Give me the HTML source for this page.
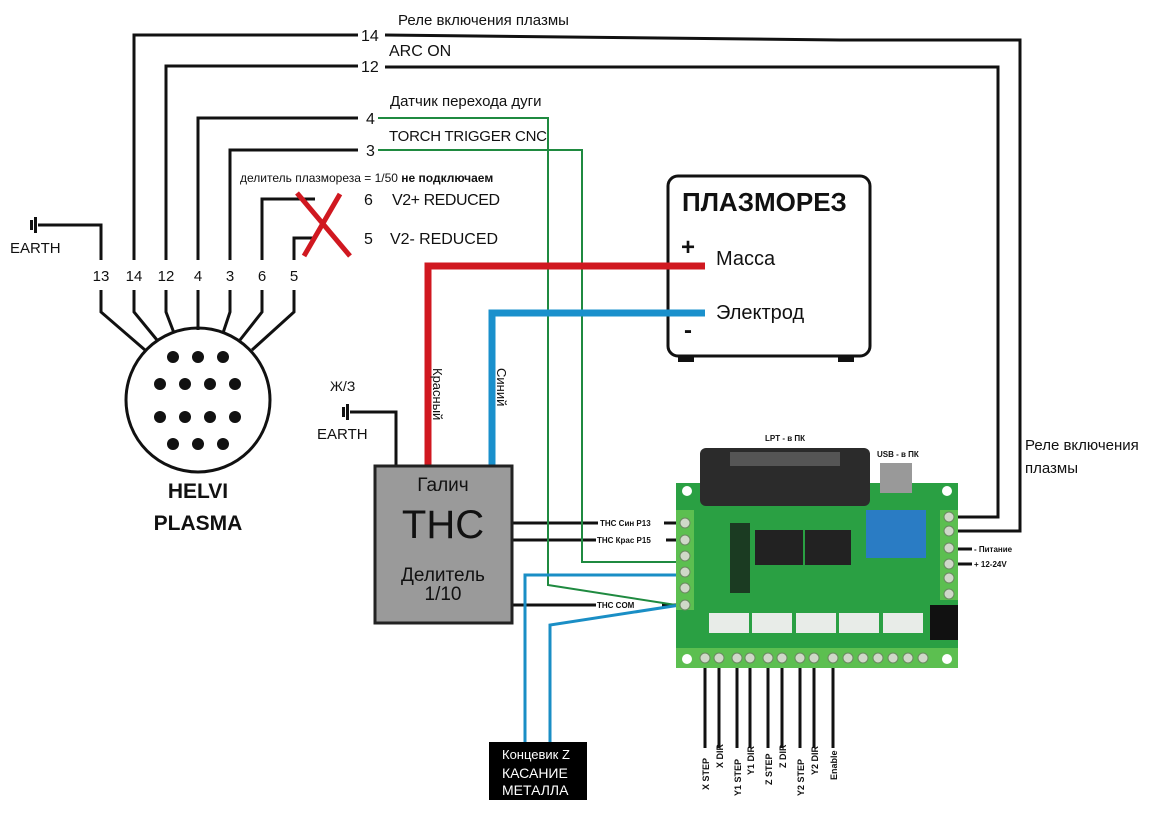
<!DOCTYPE html>
<html><head><meta charset="utf-8"><style>
body{margin:0;background:#fff}
svg{display:block;font-family:"Liberation Sans","DejaVu Sans",sans-serif}
</style></head><body>
<svg width="1160" height="814" viewBox="0 0 1160 814" xmlns="http://www.w3.org/2000/svg">
<rect width="1160" height="814" fill="#fff"/>
<g stroke="#111" stroke-width="3" fill="none">
<path d="M134 260V35H358"/><path d="M166 260V66H358"/><path d="M198 260V118H358"/><path d="M230 260V150H358"/>
<path d="M262 260V199H315"/><path d="M294 260V238H315"/>
<path d="M101 260V225H38"/>
<path d="M101 290V312L145 350"/><path d="M134 290V312L157 340"/><path d="M166 290V312L174 333"/><path d="M198 290V330"/>
<path d="M230 290V312L223 333"/><path d="M262 290V312L240 340"/><path d="M294 290V312L252 350"/>
<circle cx="198" cy="400" r="72"/>
<path d="M385 35L840 40H1020V531H958"/><path d="M385 67H998V517H958"/>
<path d="M396 465V412H350"/>
<path d="M512 523H598M664 523H678"/><path d="M512 540H596M666 540H678"/><path d="M512 605H596M662 605H678"/>
<path d="M958 549H972M958 564H972"/>
<path d="M705 668V748M719 668V748M737 668V748M750 668V748M768 668V748M782 668V748M800 668V748M814 668V748M833 668V748"/>
<rect x="668" y="176" width="202" height="180" rx="10"/>
</g>
<rect x="678" y="355" width="16" height="7" fill="#111"/><rect x="838" y="355" width="16" height="7" fill="#111"/>
<g fill="#111"><rect x="30" y="220" width="3" height="10"/><rect x="34" y="217" width="3" height="16"/>
<rect x="342" y="407" width="3" height="10"/><rect x="346" y="404" width="3" height="16"/></g>
<g fill="#111">
<circle cx="173" cy="357" r="6"/><circle cx="198" cy="357" r="6"/><circle cx="223" cy="357" r="6"/>
<circle cx="160" cy="384" r="6"/><circle cx="185" cy="384" r="6"/><circle cx="210" cy="384" r="6"/><circle cx="235" cy="384" r="6"/>
<circle cx="160" cy="417" r="6"/><circle cx="185" cy="417" r="6"/><circle cx="210" cy="417" r="6"/><circle cx="235" cy="417" r="6"/>
<circle cx="173" cy="444" r="6"/><circle cx="198" cy="444" r="6"/><circle cx="223" cy="444" r="6"/>
</g>
<path d="M297 193L350 256M340 194L304 256" stroke="#d01820" stroke-width="5"/>
<g stroke="#1f8a40" stroke-width="2" fill="none">
<path d="M378 118H548V585L676 605"/><path d="M378 150H582V562H680"/>
</g>
<g stroke="#1a8ec5" stroke-width="3" fill="none">
<path d="M680 575H525V742"/><path d="M680 605L550 625V742"/>
</g>
<path d="M428 465V266H705" stroke="#d01820" stroke-width="7" fill="none"/>
<path d="M492 465V313H705" stroke="#1a90cc" stroke-width="7" fill="none"/>
<rect x="375" y="466" width="137" height="157" fill="#9a9a9a" stroke="#222" stroke-width="3"/>
<rect x="676" y="483" width="282" height="185" fill="#2aa043"/>
<rect x="676" y="648" width="282" height="20" fill="#5cbf50"/>
<rect x="676" y="510" width="18" height="100" fill="#5cbf50"/>
<rect x="940" y="510" width="18" height="90" fill="#5cbf50"/>
<g fill="#cfd8c8" stroke="#6a8a60" stroke-width="1">
<circle cx="685" cy="523" r="5"/><circle cx="685" cy="540" r="5"/><circle cx="685" cy="556" r="5"/><circle cx="685" cy="572" r="5"/><circle cx="685" cy="588" r="5"/><circle cx="685" cy="605" r="5"/>
<circle cx="949" cy="517" r="5"/><circle cx="949" cy="531" r="5"/><circle cx="949" cy="548" r="5"/><circle cx="949" cy="564" r="5"/><circle cx="949" cy="578" r="5"/><circle cx="949" cy="594" r="5"/>
<circle cx="705" cy="658" r="5"/><circle cx="719" cy="658" r="5"/><circle cx="737" cy="658" r="5"/><circle cx="750" cy="658" r="5"/><circle cx="768" cy="658" r="5"/><circle cx="782" cy="658" r="5"/><circle cx="800" cy="658" r="5"/><circle cx="814" cy="658" r="5"/><circle cx="833" cy="658" r="5"/><circle cx="848" cy="658" r="5"/><circle cx="863" cy="658" r="5"/><circle cx="878" cy="658" r="5"/><circle cx="893" cy="658" r="5"/><circle cx="908" cy="658" r="5"/><circle cx="923" cy="658" r="5"/>
</g>
<g fill="#fff"><circle cx="687" cy="491" r="5"/><circle cx="947" cy="491" r="5"/><circle cx="687" cy="659" r="5"/><circle cx="947" cy="659" r="5"/></g>
<rect x="700" y="448" width="170" height="58" rx="6" fill="#2b2b2b"/>
<rect x="730" y="452" width="110" height="14" fill="#555"/>
<rect x="880" y="463" width="32" height="30" fill="#999"/>
<rect x="866" y="510" width="60" height="48" fill="#2a7cc4"/>
<rect x="755" y="530" width="48" height="35" fill="#222"/><rect x="805" y="530" width="46" height="35" fill="#222"/>
<rect x="730" y="523" width="20" height="70" fill="#1b3b22"/>
<g fill="#e8ece8"><rect x="709" y="613" width="40" height="20"/><rect x="752" y="613" width="40" height="20"/><rect x="796" y="613" width="40" height="20"/><rect x="839" y="613" width="40" height="20"/><rect x="883" y="613" width="40" height="20"/></g>
<rect x="930" y="605" width="28" height="35" fill="#111"/>
<rect x="489" y="742" width="98" height="58" fill="#000"/>
<g fill="#111" font-size="15">
<text x="398" y="25">Реле включения плазмы</text>
<text x="361" y="41" font-size="16">14</text><text x="361" y="72" font-size="16">12</text>
<text x="389" y="56" font-size="16">ARC ON</text>
<text x="390" y="106">Датчик перехода дуги</text>
<text x="366" y="124" font-size="16">4</text><text x="366" y="156" font-size="16">3</text>
<text x="389" y="141" font-size="15" textLength="158">TORCH TRIGGER CNC</text>
<text x="240" y="182" font-size="12">делитель плазмореза = 1/50 <tspan font-weight="bold">не подключаем</tspan></text>
<text x="364" y="205" font-size="16">6</text><text x="392" y="205" font-size="16" textLength="108">V2+ REDUCED</text>
<text x="364" y="244" font-size="16">5</text><text x="390" y="244" font-size="16" textLength="108">V2-  REDUCED</text>
<text x="10" y="253" font-size="15">EARTH</text>
<g font-size="15" text-anchor="middle"><text x="101" y="281">13</text><text x="134" y="281">14</text><text x="166" y="281">12</text><text x="198" y="281">4</text><text x="230" y="281">3</text><text x="262" y="281">6</text><text x="294" y="281">5</text></g>
<text x="198" y="498" font-size="21" font-weight="bold" text-anchor="middle">HELVI</text>
<text x="198" y="530" font-size="21" font-weight="bold" text-anchor="middle">PLASMA</text>
<text x="330" y="391" font-size="14">Ж/З</text>
<text x="317" y="439" font-size="15">EARTH</text>
<text transform="translate(433,368) rotate(90)" font-size="13">Красный</text>
<text transform="translate(497,368) rotate(90)" font-size="13">Синий</text>
<text x="443" y="491" font-size="19" text-anchor="middle">Галич</text>
<text x="443" y="538" font-size="40" text-anchor="middle">THC</text>
<text x="443" y="581" font-size="19" text-anchor="middle">Делитель</text>
<text x="443" y="600" font-size="19" text-anchor="middle">1/10</text>
<text x="682" y="211" font-size="26" font-weight="bold">ПЛАЗМОРЕЗ</text>
<text x="681" y="255" font-size="24" font-weight="bold">+</text>
<text x="716" y="265" font-size="20">Масса</text>
<text x="716" y="319" font-size="20">Электрод</text>
<text x="684" y="338" font-size="24" font-weight="bold">-</text>
<g font-size="8" font-weight="bold"><text x="600" y="526">THC Син P13</text><text x="597" y="543">THC Крас P15</text><text x="597" y="608">THC COM</text>
<text x="765" y="441">LPT - в ПК</text><text x="877" y="457">USB - в ПК</text>
<text x="974" y="552">- Питание</text><text x="974" y="567">+ 12-24V</text></g>
<text x="1025" y="450" font-size="15">Реле включения</text>
<text x="1025" y="473" font-size="15">плазмы</text>
<g font-size="9" font-weight="bold">
<text transform="translate(709,790) rotate(-90)">X STEP</text><text transform="translate(723,768) rotate(-90)">X DIR</text>
<text transform="translate(741,796) rotate(-90)">Y1 STEP</text><text transform="translate(754,775) rotate(-90)">Y1 DIR</text>
<text transform="translate(772,785) rotate(-90)">Z STEP</text><text transform="translate(786,768) rotate(-90)">Z DIR</text>
<text transform="translate(804,796) rotate(-90)">Y2 STEP</text><text transform="translate(818,775) rotate(-90)">Y2 DIR</text>
<text transform="translate(837,780) rotate(-90)">Enable</text></g>
</g>
<g fill="#fff" font-size="13"><text x="502" y="759">Концевик Z</text><text x="502" y="778" font-size="14">КАСАНИЕ</text><text x="502" y="795" font-size="14">МЕТАЛЛА</text></g>
</svg>
</body></html>
